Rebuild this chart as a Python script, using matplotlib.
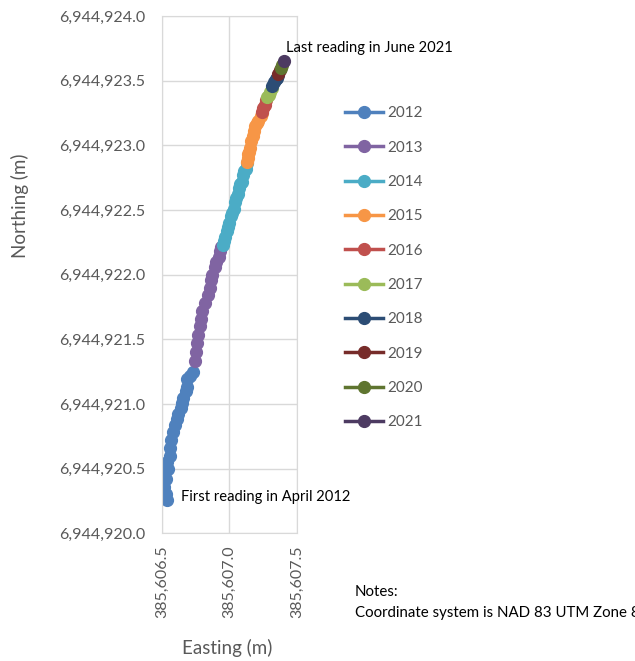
import numpy as np
import matplotlib
matplotlib.use("Agg")
import matplotlib.pyplot as plt
from matplotlib.ticker import FuncFormatter, MultipleLocator

plt.rcParams['font.family'] = ['Lato', 'DejaVu Sans']

### Data: survey readings by year (easting, northing in m)
years = ['2012', '2013', '2014', '2015', '2016', '2017', '2018', '2019', '2020', '2021']
colors = ['#4F81BD', '#8064A2', '#4BACC6', '#F79646', '#C0504D',
          '#9BBB59', '#2C4D75', '#772C2A', '#5F7530', '#4D3B62']

east_2012 = [385606.54, 385606.53, 385606.52, 385606.53, 385606.52, 385606.55, 385606.54,
             385606.56, 385606.56, 385606.57, 385606.58, 385606.60, 385606.61, 385606.62,
             385606.64, 385606.65, 385606.66, 385606.68, 385606.69, 385606.69, 385606.71,
             385606.73]
north_2012 = [6944920.26, 6944920.30, 6944920.36, 6944920.42, 6944920.46, 6944920.50,
              6944920.55, 6944920.60, 6944920.66, 6944920.72, 6944920.78, 6944920.84,
              6944920.88, 6944920.92, 6944920.97, 6944921.01, 6944921.05, 6944921.10,
              6944921.13, 6944921.19, 6944921.22, 6944921.25]

east_2013 = [385606.745, 385606.75, 385606.76, 385606.77, 385606.78, 385606.79, 385606.80,
             385606.82, 385606.84, 385606.86, 385606.865, 385606.87, 385606.89, 385606.90,
             385606.92, 385606.93, 385606.94]
north_2013 = [6944921.33, 6944921.40, 6944921.47, 6944921.53, 6944921.60, 6944921.66,
              6944921.72, 6944921.78, 6944921.84, 6944921.90, 6944921.96, 6944922.00,
              6944922.06, 6944922.10, 6944922.14, 6944922.18, 6944922.21]

east_2014 = [385606.95, 385606.96, 385606.97, 385606.98, 385606.99, 385607.00, 385607.01,
             385607.02, 385607.03, 385607.04, 385607.05, 385607.06, 385607.07, 385607.08,
             385607.09, 385607.10, 385607.11, 385607.12, 385607.13]
north_2014 = [6944922.23, 6944922.26, 6944922.29, 6944922.34, 6944922.37, 6944922.40,
              6944922.45, 6944922.48, 6944922.51, 6944922.56, 6944922.59, 6944922.62,
              6944922.67, 6944922.70, 6944922.72, 6944922.77, 6944922.80, 6944922.82,
              6944922.86]

east_2015 = [385607.13, 385607.135, 385607.14, 385607.145, 385607.15, 385607.16, 385607.17,
             385607.18, 385607.19, 385607.20, 385607.21, 385607.23, 385607.24]
north_2015 = [6944922.87, 6944922.90, 6944922.93, 6944922.95, 6944922.98, 6944923.03,
              6944923.07, 6944923.11, 6944923.15, 6944923.17, 6944923.19, 6944923.23,
              6944923.25]

east_2016 = [385607.24, 385607.25, 385607.26, 385607.27]
north_2016 = [6944923.26, 6944923.29, 6944923.31, 6944923.35]

east_2017 = [385607.28, 385607.29, 385607.30, 385607.31]
north_2017 = [6944923.37, 6944923.39, 6944923.41, 6944923.44]

east_2018 = [385607.31, 385607.33, 385607.34, 385607.35, 385607.36]
north_2018 = [6944923.46, 6944923.49, 6944923.51, 6944923.52, 6944923.54]

east_2019 = [385607.36, 385607.37]
north_2019 = [6944923.55, 6944923.58]

east_2020 = [385607.38, 385607.39]
north_2020 = [6944923.60, 6944923.62]

east_2021 = [385607.40]
north_2021 = [6944923.65]

easts = [east_2012, east_2013, east_2014, east_2015, east_2016,
         east_2017, east_2018, east_2019, east_2020, east_2021]
norths = [north_2012, north_2013, north_2014, north_2015, north_2016,
          north_2017, north_2018, north_2019, north_2020, north_2021]

### Figure
fig = plt.figure(figsize=(6.35, 6.61), dpi=100)
ax = fig.add_axes([0.2546, 0.1932, 0.2136, 0.7826])

for yr, c, e, n in zip(years, colors, easts, norths):
    ax.plot(e, n, color=c, lw=2.5, marker='o', ms=8.5, mec=c, mfc=c, label=yr)

ax.set_xlim(385606.5, 385607.5)
ax.set_ylim(6944920.0, 6944924.0)
ax.xaxis.set_major_locator(MultipleLocator(0.5))
ax.yaxis.set_major_locator(MultipleLocator(0.5))
fmt = FuncFormatter(lambda v, p: f'{v:,.1f}')
ax.xaxis.set_major_formatter(fmt)
ax.yaxis.set_major_formatter(fmt)

grey = '#595959'
ax.tick_params(axis='both', length=0, labelsize=11.5, labelcolor=grey)
ax.tick_params(axis='y', pad=12)
ax.tick_params(axis='x', labelrotation=90, pad=9)
ax.grid(True, color='#D9D9D9', lw=1)
ax.set_axisbelow(True)
for s in ax.spines.values():
    s.set_color('#D9D9D9')

fig.text(0.032, 0.688, 'Northing (m)', rotation=90, fontsize=13.5, color=grey,
         ha='center', va='center')
fig.text(0.358, 0.02, 'Easting (m)', fontsize=13.5, color=grey, ha='center', va='center')

ax.text(385607.42, 6944923.75, 'Last reading in June 2021', fontsize=10.6, va='center')
ax.text(385606.64, 6944920.28, 'First reading in April 2012', fontsize=10.6, va='center')

fig.text(0.559, 0.104, 'Notes:', fontsize=10.8, va='center')
fig.text(0.559, 0.072, 'Coordinate system is NAD 83 UTM Zone 8', fontsize=10.8, va='center')

leg = ax.legend(loc='upper left', bbox_to_anchor=(1.25, 0.852), frameon=False,
                fontsize=11, labelspacing=1.33, handlelength=2.5, handletextpad=0.3)
for t in leg.get_texts():
    t.set_color(grey)

fig.savefig('out.png', dpi=100)
